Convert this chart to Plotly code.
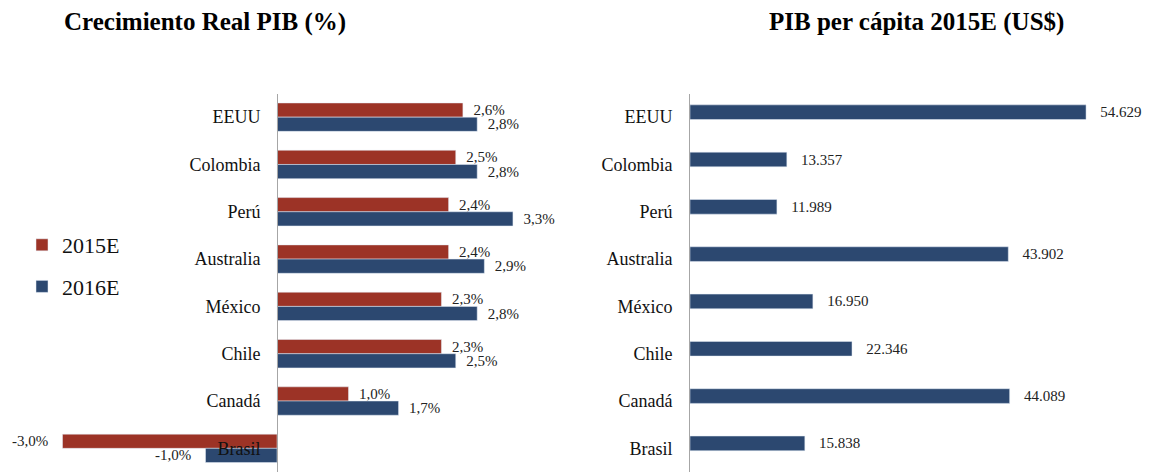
import plotly.graph_objects as go

paises = ["EEUU", "Colombia", "Perú", "Australia", "México", "Chile", "Canadá", "Brasil"]
crec_2015 = [2.6, 2.5, 2.4, 2.4, 2.3, 2.3, 1.0, -3.0]
crec_2016 = [2.8, 2.8, 3.3, 2.9, 2.8, 2.5, 1.7, -1.0]
pib_pc_2015 = [54629, 13357, 11989, 43902, 16950, 22346, 44089, 15838]

RED = "#9c3326"
BLUE = "#2c4870"
FONT = "Liberation Serif"
W, H = 1151, 472
SP = "\u00a0"


def pct_labels(vals):
    # gap between bar end and label, on whichever side the bar ends
    return [SP * 2 + "%{x:.1f}%" if v >= 0 else "%{x:.1f}%" + SP * 3 for v in vals]


fig = go.Figure()

fig.add_trace(go.Bar(
    y=paises, x=crec_2015, orientation="h", name="2015E",
    marker=dict(color=RED), width=0.3, offset=-0.3,
    texttemplate=pct_labels(crec_2015), textposition="outside", cliponaxis=False,
    constraintext="none", textfont=dict(size=15, color="#222"), legendgroup="a",
    xaxis="x", yaxis="y",
))
fig.add_trace(go.Bar(
    y=paises, x=crec_2016, orientation="h", name="2016E",
    marker=dict(color=BLUE), width=0.3, offset=0.0,
    texttemplate=pct_labels(crec_2016), textposition="outside", cliponaxis=False,
    constraintext="none", textfont=dict(size=15, color="#222"), legendgroup="b",
    xaxis="x", yaxis="y",
))
fig.add_trace(go.Bar(
    y=paises, x=pib_pc_2015, orientation="h", name="PIB per cápita",
    marker=dict(color=BLUE), width=0.31, offset=-0.26,
    texttemplate=SP * 3 + "%{x:,.0f}", textposition="outside", cliponaxis=False,
    constraintext="none", textfont=dict(size=15, color="#222"), showlegend=False,
    xaxis="x2", yaxis="y2",
))

# left panel: zero line at x=277px, ~71.5 px per point
px_per_pt = 71.5
left_w = 560
x_range = [-277 / px_per_pt, (left_w - 277) / px_per_pt]
# right panel: axis at 690px, ~0.00725 px per US$
r0 = 690
x2_range = [0, (W - r0) / 0.00725]

ydom = [0, 378.5 / H]

yax = dict(domain=ydom, autorange="reversed", showline=True, linecolor="#a6a6a6",
           linewidth=1, ticks="", ticklabelstandoff=13, showgrid=False,
           tickfont=dict(size=18, color="#111"), automargin=False)

fig.update_layout(
    width=W, height=H,
    margin=dict(l=0, r=0, t=0, b=0),
    paper_bgcolor="white", plot_bgcolor="white",
    barmode="overlay", separators=",.",
    font=dict(family=FONT, size=16, color="#111"),
    xaxis=dict(domain=[0, left_w / W], range=x_range, visible=False),
    yaxis=dict(yax, anchor="free", position=277 / W),
    xaxis2=dict(domain=[r0 / W, 1], range=x2_range, visible=False, anchor="y2"),
    yaxis2=dict(yax, anchor="x2"),
    legend=dict(x=22 / W, y=1 - 224 / H, xanchor="left", yanchor="top",
                font=dict(size=22), tracegroupgap=10, itemwidth=30,
                bgcolor="rgba(0,0,0,0)"),
    annotations=[
        dict(text="<b>Crecimiento Real PIB (%)</b>", x=205 / W, y=1 - 22 / H,
             xref="paper", yref="paper", xanchor="center", yanchor="middle",
             showarrow=False, font=dict(size=25, color="#000")),
        dict(text="<b>PIB per cápita 2015E (US$)</b>", x=916 / W, y=1 - 22 / H,
             xref="paper", yref="paper", xanchor="center", yanchor="middle",
             showarrow=False, font=dict(size=25, color="#000")),
    ],
)

fig.write_html("out.html", config={"displayModeBar": False},
               post_script="document.body.style.margin='0';")
